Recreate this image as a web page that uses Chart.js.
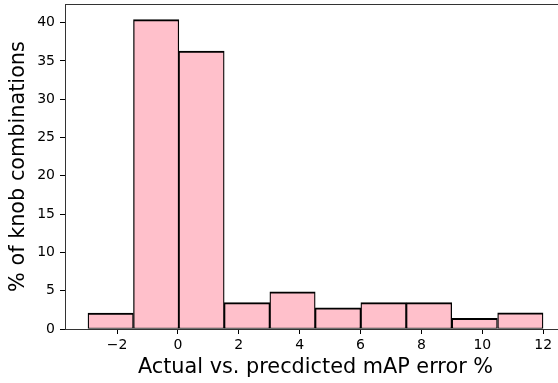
<!DOCTYPE html>
<html>
<head>
<meta charset="utf-8">
<script src="https://cdn.jsdelivr.net/npm/chart.js@4/dist/chart.umd.min.js"></script>
<style>
	html, body { margin: 0; padding: 0; background: #fff; overflow: hidden; }
	#wrap { width: 572px; height: 383px; }
</style>
</head>
<body>
<div id="wrap"><canvas id="myChart" width="572" height="383"></canvas></div>
<script>
// histogram bins (left edges + last right edge) and bar heights in %
var binEdges = [-2.96, -1.46, 0.03, 1.52, 3.02, 4.51, 6.01, 7.5, 9.0, 10.5, 12.0];
var percents = [2.08, 40.4, 36.3, 3.45, 4.85, 2.75, 3.45, 3.45, 1.4, 2.1];
var xTicks = [-2, 0, 2, 4, 6, 8, 10, 12];
var yTicks = [0, 5, 10, 15, 20, 25, 30, 35, 40];

var bars = [];
for (var i = 0; i < percents.length; i++) {
	bars.push({ x: (binEdges[i] + binEdges[i + 1]) / 2, y: percents[i] });
}

var xMin = -3.71, xMax = 12.75;
var yMax = 42.44;
var font = 'DejaVu Sans';

// force axis box sizes so the plot area sits where the reference has it
function fixSize(size) {
	return function(scale) {
		if (scale.isHorizontal()) scale.height = size;
		else scale.width = size;
		scale.paddingTop = 0;
		scale.paddingBottom = 0;
		scale.paddingLeft = 0;
		scale.paddingRight = 0;
	};
}
function minus(v) {
	return String(v).replace('-', '\u2212');
}

var ctx = document.getElementById('myChart').getContext('2d');
new Chart(ctx, {
	type: 'bar',
	data: {
		datasets: [{
			data: bars,
			backgroundColor: '#ffc0cb',
			borderColor: '#000',
			borderWidth: { top: 2, left: 1.3, right: 1.3, bottom: 1 },
			borderSkipped: false,
			barPercentage: 1.0,
			categoryPercentage: 1.0
		}]
	},
	options: {
		responsive: false,
		animation: false,
		layout: { padding: 0 },
		plugins: { legend: { display: false }, tooltip: { enabled: false } },
		scales: {
			x: {
				type: 'linear',
				position: 'bottom',
				min: xMin,
				max: xMax,
				offset: false,
				afterFit: fixSize(54),
				afterBuildTicks: function(scale) {
					scale.ticks = xTicks.map(function(v) { return { value: v }; });
				},
				grid: { offset: false, drawOnChartArea: false, drawTicks: true, tickLength: 5, tickColor: '#000', tickWidth: 1 },
				border: { display: true, color: '#333', width: 1 },
				ticks: {
					color: '#000',
					padding: 3,
					maxRotation: 0,
					font: { family: font, size: 14 },
					callback: function(v) { return minus(v); }
				},
				title: {
					display: true,
					text: 'Actual vs. precdicted mAP error %',
					color: '#000',
					font: { family: font, size: 20.8 },
					padding: { top: 0, bottom: 3 }
				}
			},
			xTop: {
				type: 'linear',
				position: 'top',
				min: xMin,
				max: xMax,
				afterFit: fixSize(4),
				grid: { display: false },
				border: { display: true, color: '#333', width: 1 },
				ticks: { display: false }
			},
			y: {
				type: 'linear',
				position: 'left',
				min: 0,
				max: yMax,
				afterFit: fixSize(65),
				afterBuildTicks: function(scale) {
					scale.ticks = yTicks.map(function(v) { return { value: v }; });
				},
				grid: { drawOnChartArea: false, drawTicks: true, tickLength: 5, tickColor: '#000', tickWidth: 1 },
				border: { display: true, color: '#333', width: 1 },
				ticks: {
					color: '#000',
					padding: 5,
					font: { family: font, size: 14 }
				},
				title: {
					display: true,
					text: '% of knob combinations',
					color: '#000',
					font: { family: font, size: 20.8 },
					padding: { top: 6, bottom: 0 }
				}
			},
			yRight: {
				type: 'linear',
				position: 'right',
				min: 0,
				max: yMax,
				afterFit: fixSize(6),
				grid: { display: false },
				border: { display: true, color: '#333', width: 1 },
				ticks: { display: false }
			}
		}
	}
});
</script>
</body>
</html>
